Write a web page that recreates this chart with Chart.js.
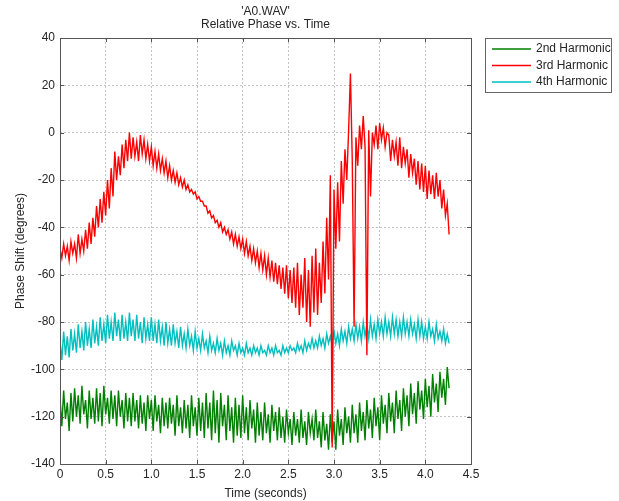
<!DOCTYPE html>
<html>
<head>
<meta charset="utf-8">
<script src="https://cdn.jsdelivr.net/npm/chart.js@4"></script>
<style>
  html, body { margin: 0; padding: 0; background: #fff; }
  #wrap { width: 619px; height: 501px; }
</style>
</head>
<body>
<div id="wrap"><canvas id="phaseChart" width="619" height="501"></canvas></div>
<script>
// sample spacing of the phase estimates (seconds)
const DT = 0.02;

const xTicks = [0, 0.5, 1, 1.5, 2, 2.5, 3, 3.5, 4, 4.5];
const yTicks = [-140, -120, -100, -80, -60, -40, -20, 0, 20, 40];

const seriesNames = ["2nd Harmonic", "3rd Harmonic", "4th Harmonic"];
const seriesColors = ["#008000", "#ff0000", "#00bfbf"];

// phase of 2nd harmonic (degrees), one value per DT
const harmonic2 = [
  -112, -124, -109, -121, -114, -126, -110, -122, -108, -120,
  -111, -123, -107, -119, -113, -125, -109, -121, -112, -123,
  -108, -122, -110, -124, -107, -119, -112, -123, -109, -121,
  -111, -124, -109, -120, -113, -125, -110, -122, -112, -124,
  -110, -122, -113, -125, -111, -123, -114, -126, -111, -121,
  -113, -126, -111, -122, -115, -127, -112, -124, -114, -125,
  -112, -123, -115, -128, -111, -124, -116, -127, -113, -125,
  -115, -129, -111, -124, -116, -128, -112, -126, -114, -129,
  -110, -125, -114, -130, -109, -127, -113, -131, -110, -124,
  -115, -130, -111, -126, -116, -131, -112, -128, -115, -129,
  -111, -127, -116, -130, -113, -125, -117, -131, -114, -128,
  -118, -130, -114, -127, -119, -131, -115, -126, -118, -130,
  -116, -129, -120, -131, -117, -127, -121, -132, -118, -128,
  -121, -131, -117, -129, -122, -132, -118, -127, -121, -130,
  -117, -129, -122, -133, -118, -130, -123, -134, -119, -131,
  -122, -134, -117, -128, -121, -132, -116, -127, -120, -131,
  -115, -127, -119, -131, -114, -126, -118, -130, -113, -125,
  -117, -129, -112, -124, -116, -130, -111, -123, -115, -127,
  -110, -122, -114, -127, -109, -121, -113, -126, -108, -120,
  -111, -124, -106, -119, -110, -123, -105, -117, -109, -121,
  -104, -116, -107, -120, -102, -114, -106, -118, -101, -112,
  -104, -115, -99, -108
];

// phase of 3rd harmonic (degrees)
const harmonic3 = [
  -49, -53, -47, -52, -48, -54, -46, -51, -47, -53,
  -43, -51, -45, -50, -41, -49, -38, -47, -36, -44,
  -31, -40, -28, -38, -25, -35, -20, -32, -15, -27,
  -8, -20, -10, -18, -5, -15, -3, -12, 0, -11,
  -2, -10, -4, -12, -1, -9, -3, -11, -5, -12,
  -6, -14, -8, -15, -9, -16, -11, -17, -12, -19,
  -14, -20, -16, -21, -17, -22, -19, -23, -20, -24,
  -22, -25, -24, -26, -25, -28, -27, -29, -29, -31,
  -31, -34, -33, -36, -35, -38, -37, -40, -38, -42,
  -40, -43, -41, -45, -42, -47, -43, -48, -44, -49,
  -45, -51, -46, -52, -48, -54, -49, -55, -50, -57,
  -51, -58, -52, -60, -53, -61, -54, -63, -55, -64,
  -56, -66, -57, -68, -56, -70, -58, -72, -57, -74,
  -55, -77, -60, -74, -53, -80, -58, -82, -52, -76,
  -49, -77, -55, -72, -46, -68, -36, -62, -18, -133,
  -24, -49, -21, -46, -12, -30, -7, -20, 1, 25,
  -12, -82, -2, -14, 3, -7, 7, -6, -94, 1,
  -27, 0, -5, 3, -7, 4, -3, 2, -6, 0,
  -1, -12, -3, -10, -4, -14, -2, -15, -6, -13,
  -7, -19, -9, -17, -11, -22, -12, -24, -13, -25,
  -14, -28, -16, -26, -18, -28, -17, -27, -20, -32,
  -24, -35, -30, -43
];

// phase of 4th harmonic (degrees)
const harmonic4 = [
  -88, -96, -84, -94, -86, -95, -83, -92, -85, -93,
  -81, -91, -84, -92, -80, -90, -83, -91, -79, -89,
  -82, -90, -78, -88, -81, -89, -77, -87, -80, -88,
  -76, -86, -79, -88, -77, -87, -80, -88, -76, -86,
  -79, -88, -77, -87, -80, -89, -78, -87, -81, -88,
  -78, -88, -81, -89, -79, -88, -82, -90, -80, -89,
  -83, -90, -81, -89, -84, -91, -82, -90, -85, -91,
  -83, -90, -86, -92, -84, -91, -87, -92, -85, -91,
  -88, -93, -86, -92, -89, -93, -87, -92, -89, -94,
  -88, -93, -90, -94, -88, -92, -90, -94, -89, -93,
  -91, -94, -89, -93, -91, -94, -90, -93, -91, -94,
  -90, -93, -92, -94, -90, -93, -91, -94, -90, -93,
  -92, -94, -90, -93, -91, -93, -90, -92, -91, -93,
  -89, -92, -90, -93, -88, -92, -89, -91, -87, -91,
  -88, -91, -86, -90, -87, -91, -85, -89, -86, -90,
  -84, -89, -85, -90, -83, -88, -84, -89, -82, -87,
  -83, -88, -81, -87, -82, -88, -80, -86, -81, -87,
  -79, -86, -81, -87, -79, -85, -80, -86, -78, -85,
  -80, -86, -78, -85, -79, -86, -80, -86, -78, -85,
  -80, -86, -79, -85, -81, -87, -79, -86, -80, -87,
  -82, -87, -80, -86, -83, -88, -81, -87, -84, -88,
  -83, -89, -85, -89
];

const FONT = "'Liberation Sans', Arial, sans-serif";
const TEXT = "#262626";

function toPoints(values) {
  return values.map((v, i) => ({ x: i * DT, y: v }));
}

// plot frame, inward ticks, titles and the boxed legend
const frameAndLegend = {
  id: "frameAndLegend",
  afterDraw(chart) {
    const ctx = chart.ctx;
    const a = chart.chartArea;
    const xs = chart.scales.x;
    const ys = chart.scales.y;
    ctx.save();

    ctx.strokeStyle = "#555";
    ctx.lineWidth = 1;
    ctx.strokeRect(Math.round(a.left) + 0.5, Math.round(a.top) + 0.5,
      Math.round(a.right - a.left), Math.round(a.bottom - a.top));

    ctx.beginPath();
    xTicks.forEach(t => {
      const px = Math.round(xs.getPixelForValue(t)) + 0.5;
      ctx.moveTo(px, a.bottom); ctx.lineTo(px, a.bottom - 4);
      ctx.moveTo(px, a.top); ctx.lineTo(px, a.top + 4);
    });
    yTicks.forEach(t => {
      const py = Math.round(ys.getPixelForValue(t)) + 0.5;
      ctx.moveTo(a.left, py); ctx.lineTo(a.left + 4, py);
      ctx.moveTo(a.right, py); ctx.lineTo(a.right - 4, py);
    });
    ctx.stroke();

    // titles
    ctx.fillStyle = TEXT;
    ctx.font = "12px " + FONT;
    ctx.textAlign = "center";
    ctx.textBaseline = "middle";
    const cx = (a.left + a.right) / 2;
    ctx.fillText("'A0.WAV'", cx, 12);
    ctx.fillText("Relative Phase vs. Time", cx, 25);

    // legend
    const lx = 485, ly = 38, lw = 126, lh = 54;
    ctx.fillStyle = "#fff";
    ctx.fillRect(lx, ly, lw, lh);
    ctx.strokeStyle = "#666";
    ctx.strokeRect(lx + 0.5, ly + 0.5, lw, lh);
    ctx.textAlign = "left";
    seriesNames.forEach((name, i) => {
      const y = ly + 11 + i * 16.5;
      ctx.strokeStyle = seriesColors[i];
      ctx.lineWidth = 1.5;
      ctx.beginPath();
      ctx.moveTo(lx + 7, y); ctx.lineTo(lx + 46, y);
      ctx.stroke();
      ctx.fillStyle = TEXT;
      ctx.fillText(name, lx + 51, y);
    });
    ctx.restore();
  }
};

const seriesData = [harmonic2, harmonic3, harmonic4];

new Chart(document.getElementById("phaseChart"), {
  type: "line",
  data: {
    datasets: seriesData.map((vals, i) => ({
      label: seriesNames[i],
      data: toPoints(vals),
      borderColor: seriesColors[i],
      borderWidth: 1.4,
      pointRadius: 0,
      tension: 0,
      fill: false,
      order: i === 1 ? 0 : i + 1,
    })),
  },
  options: {
    responsive: false,
    animation: false,
    layout: { padding: { top: 38, right: 148, left: 0, bottom: 0 } },
    plugins: {
      legend: { display: false },
      tooltip: { enabled: false },
    },
    scales: {
      x: {
        type: "linear",
        min: 0,
        max: 4.5,
        afterBuildTicks: s => { s.ticks = xTicks.map(v => ({ value: v })); },
        afterFit: s => { s.height = 37; },
        ticks: { color: TEXT, font: { family: FONT, size: 12 }, padding: 3, maxRotation: 0 },
        grid: { color: "#c4c4c4", drawTicks: false },
        border: { display: false, dash: [2, 2] },
        title: { display: true, text: "Time (seconds)", color: TEXT, font: { family: FONT, size: 12 }, padding: { top: 2, bottom: 0 } },
      },
      y: {
        min: -140,
        max: 40,
        afterBuildTicks: s => { s.ticks = yTicks.map(v => ({ value: v })); },
        afterFit: s => { s.width = 60; },
        ticks: { color: TEXT, font: { family: FONT, size: 12 }, padding: 5 },
        grid: { color: "#c4c4c4", drawTicks: false },
        border: { display: false, dash: [2, 2] },
        title: { display: true, text: "Phase Shift (degrees)", color: TEXT, font: { family: FONT, size: 12 }, padding: { top: 13, bottom: 4 } },
      },
    },
  },
  plugins: [frameAndLegend],
});
</script>
</body>
</html>
